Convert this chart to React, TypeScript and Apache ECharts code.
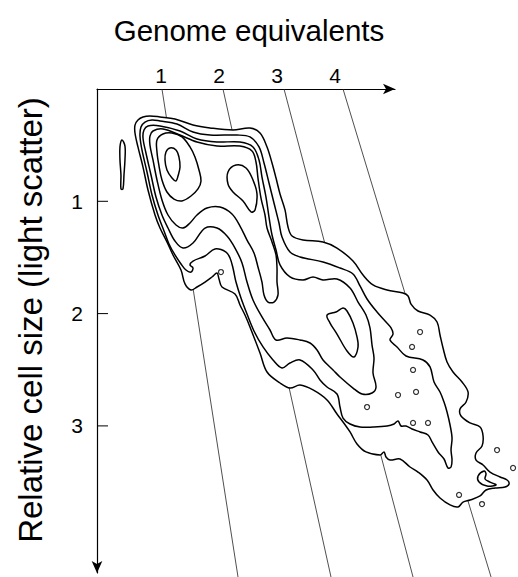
import React, { useEffect, useRef } from "react";
import * as echarts from "echarts";

const FONT = '"Liberation Sans", Arial, Helvetica, sans-serif';

// axis ticks
const xTicks = [1, 2, 3, 4];
const yTicks = [1, 2, 3];
const X_MIN = -0.103;
const X_MAX = 5.034;
const Y_MAX = 4.31;

// slanted genome-equivalent lines: [start, end] in (genome equivalents, relative cell size)
const genomeLine1 = [[1.017, 0], [2.328, 4.346]];
const genomeLine2 = [[2.069, 0], [3.931, 4.346]];
const genomeLine3 = [[3.121, 0], [5.345, 4.346]];
const genomeLine4 = [[4.138, 0], [6.69, 4.346]];

// contour levels (closed loops)
const contourOuter = [
  [0.69, 0.249], [0.81, 0.24], [0.983, 0.249], [1.241, 0.267], [1.552, 0.321], [1.845, 0.347],
  [2.241, 0.365], [2.534, 0.347], [2.707, 0.392], [2.828, 0.516], [2.914, 0.659], [2.983, 0.793],
  [3.052, 0.935], [3.138, 1.077], [3.19, 1.229], [3.259, 1.309], [3.448, 1.345], [3.793, 1.362],
  [4.034, 1.416], [4.31, 1.532], [4.483, 1.657], [4.655, 1.745], [4.897, 1.79], [5.172, 1.817],
  [5.259, 1.843], [5.31, 1.915], [5.431, 1.977], [5.638, 2.013], [5.759, 2.075], [5.81, 2.191],
  [5.862, 2.306], [5.931, 2.431], [6.034, 2.52], [6.19, 2.609], [6.293, 2.698], [6.259, 2.787],
  [6.155, 2.85], [6.172, 2.912], [6.328, 2.974], [6.5, 3.01], [6.552, 3.09], [6.534, 3.179],
  [6.431, 3.241], [6.431, 3.304], [6.552, 3.348], [6.672, 3.411], [6.845, 3.455], [6.966, 3.482],
  [7.0, 3.517], [6.931, 3.544], [6.759, 3.553], [6.603, 3.571], [6.5, 3.624], [6.328, 3.66],
  [6.207, 3.678], [6.121, 3.722], [5.983, 3.704], [5.81, 3.642], [5.69, 3.571], [5.586, 3.482],
  [5.431, 3.411], [5.293, 3.366], [5.121, 3.295], [4.948, 3.304], [4.879, 3.277], [4.845, 3.232],
  [4.776, 3.259], [4.534, 3.232], [4.379, 3.161], [4.259, 3.054], [4.138, 2.965], [4.034, 2.894],
  [3.862, 2.769], [3.621, 2.68], [3.397, 2.636], [3.224, 2.663], [3.052, 2.618], [2.828, 2.52],
  [2.707, 2.351], [2.534, 2.119], [2.448, 2.013], [2.362, 1.923], [2.276, 1.825], [2.052, 1.763],
  [2.0, 1.692], [1.966, 1.639], [1.879, 1.674], [1.759, 1.719], [1.621, 1.763], [1.517, 1.79],
  [1.414, 1.736], [1.345, 1.612], [1.207, 1.478], [1.103, 1.362], [0.983, 1.238], [0.897, 1.122],
  [0.776, 0.899], [0.69, 0.695], [0.603, 0.516], [0.552, 0.392], [0.552, 0.321], [0.603, 0.276],
];

const contourLevel2 = [
  [0.724, 0.294], [0.845, 0.276], [0.983, 0.285], [1.276, 0.312], [1.552, 0.383], [1.845, 0.41],
  [2.31, 0.41], [2.534, 0.427], [2.69, 0.516], [2.776, 0.659], [2.862, 0.837], [2.948, 1.015],
  [3.034, 1.193], [3.086, 1.318], [3.224, 1.452], [3.397, 1.496], [3.793, 1.54], [4.086, 1.594],
  [4.31, 1.647], [4.431, 1.754], [4.552, 1.87], [4.724, 1.986], [4.879, 2.075], [4.966, 2.128],
  [5.0, 2.182], [4.948, 2.235], [5.069, 2.297], [5.224, 2.378], [5.517, 2.413], [5.638, 2.475],
  [5.707, 2.609], [5.81, 2.698], [5.879, 2.787], [5.931, 2.876], [5.983, 2.992], [6.017, 3.108],
  [6.0, 3.215], [6.017, 3.304], [6.0, 3.366], [5.948, 3.375], [5.879, 3.295], [5.776, 3.232],
  [5.672, 3.143], [5.603, 3.081], [5.466, 3.054], [5.328, 3.028], [5.224, 3.001], [5.138, 3.001],
  [5.086, 2.956], [5.017, 2.983], [4.897, 3.001], [4.655, 3.01], [4.431, 3.01], [4.259, 2.983],
  [4.138, 2.93], [4.086, 2.832], [4.034, 2.716], [3.862, 2.654], [3.741, 2.591], [3.621, 2.502],
  [3.397, 2.413], [3.224, 2.44], [3.086, 2.484], [2.931, 2.413], [2.759, 2.297], [2.603, 2.155],
  [2.483, 2.004], [2.379, 1.861], [2.293, 1.719], [2.241, 1.594], [2.19, 1.505], [2.121, 1.452],
  [1.931, 1.425], [1.759, 1.487], [1.552, 1.532], [1.5, 1.567], [1.552, 1.594], [1.517, 1.63],
  [1.431, 1.612], [1.345, 1.558], [1.241, 1.478], [1.138, 1.38], [1.052, 1.264], [0.948, 1.122],
  [0.845, 0.944], [0.759, 0.739], [0.672, 0.543], [0.638, 0.419], [0.655, 0.338],
];

const contourLevel3 = [
  [0.776, 0.329], [0.983, 0.329], [1.328, 0.374], [1.621, 0.445], [1.966, 0.472], [2.362, 0.472],
  [2.586, 0.516], [2.69, 0.632], [2.741, 0.784], [2.81, 0.962], [2.862, 1.14], [2.914, 1.3],
  [2.983, 1.434], [3.052, 1.567], [3.224, 1.674], [3.448, 1.701], [3.621, 1.674], [3.793, 1.701],
  [4.034, 1.692], [4.259, 1.772], [4.397, 1.897], [4.534, 2.013], [4.603, 2.128], [4.638, 2.28],
  [4.672, 2.395], [4.655, 2.529], [4.707, 2.654], [4.638, 2.707], [4.466, 2.716], [4.31, 2.663],
  [4.086, 2.565], [3.966, 2.502], [3.793, 2.413], [3.69, 2.324], [3.569, 2.262], [3.397, 2.235],
  [3.172, 2.217], [2.983, 2.235], [2.879, 2.146], [2.741, 2.03], [2.586, 1.879], [2.483, 1.719],
  [2.397, 1.549], [2.276, 1.416], [2.138, 1.309], [1.966, 1.238], [1.759, 1.238], [1.552, 1.371],
  [1.379, 1.416], [1.241, 1.354], [1.121, 1.238], [1.017, 1.122], [0.914, 0.962], [0.828, 0.766],
  [0.741, 0.57], [0.69, 0.436], [0.707, 0.365],
];

const contourLevel4 = [
  [0.862, 0.374], [1.034, 0.356], [1.328, 0.41], [1.621, 0.472], [1.966, 0.508], [2.362, 0.508],
  [2.569, 0.552], [2.638, 0.65], [2.672, 0.793], [2.724, 0.971], [2.793, 1.122], [2.828, 1.238],
  [2.914, 1.362], [2.983, 1.478], [3.0, 1.594], [3.0, 1.719], [3.017, 1.834], [2.948, 1.897],
  [2.845, 1.897], [2.776, 1.834], [2.741, 1.719], [2.672, 1.585], [2.603, 1.46], [2.483, 1.345],
  [2.362, 1.22], [2.224, 1.113], [2.017, 1.051], [1.793, 1.06], [1.621, 1.122], [1.5, 1.193],
  [1.379, 1.238], [1.259, 1.211], [1.121, 1.122], [1.017, 0.988], [0.931, 0.81], [0.862, 0.632],
  [0.81, 0.499], [0.81, 0.419],
];

const contourPeak1Ring = [
  [0.931, 0.454], [1.034, 0.401], [1.19, 0.392], [1.362, 0.427], [1.5, 0.516], [1.586, 0.606],
  [1.655, 0.721], [1.69, 0.819], [1.638, 0.89], [1.517, 0.953], [1.362, 0.997], [1.224, 0.98],
  [1.103, 0.917], [1.017, 0.81], [0.966, 0.686], [0.931, 0.561],
];

const contourPeak1Core = [
  [1.155, 0.525], [1.259, 0.543], [1.31, 0.606], [1.328, 0.695], [1.293, 0.775], [1.259, 0.819],
  [1.19, 0.793], [1.103, 0.721], [1.069, 0.632], [1.086, 0.561],
];

const contourPeak2Core = [
  [2.155, 0.739], [2.293, 0.677], [2.466, 0.703], [2.586, 0.81], [2.655, 0.935], [2.621, 1.077],
  [2.552, 1.095], [2.414, 0.997], [2.241, 0.917], [2.155, 0.846],
];

const contourPeak3Core = [
  [3.862, 2.013], [4.017, 1.986], [4.138, 1.95], [4.207, 1.977], [4.31, 2.084], [4.379, 2.208],
  [4.397, 2.297], [4.328, 2.386], [4.207, 2.333], [4.034, 2.182], [3.914, 2.084],
];

const contourSideBlob = [
  [0.328, 0.454], [0.379, 0.508], [0.379, 0.632], [0.362, 0.766], [0.345, 0.89], [0.31, 0.89],
  [0.31, 0.766], [0.293, 0.632], [0.293, 0.516],
];

const contourCrescent = [
  [6.569, 3.402], [6.466, 3.446], [6.483, 3.5], [6.621, 3.535], [6.776, 3.526], [6.672, 3.5],
  [6.586, 3.473], [6.603, 3.428],
];

// tiny isolated loops
const smallLoops = [
  [2.034, 1.63], [5.466, 2.164], [5.328, 2.297], [5.345, 2.502], [5.397, 2.698], [5.086, 2.725],
  [4.552, 2.832], [5.345, 2.974], [5.603, 2.974], [6.793, 3.215], [7.069, 3.375], [6.534, 3.696],
  [6.138, 3.615],
];

const contours = [
  contourOuter,
  contourLevel2,
  contourLevel3,
  contourLevel4,
  contourPeak1Ring,
  contourPeak1Core,
  contourPeak2Core,
  contourPeak3Core,
  contourSideBlob,
  contourCrescent,
];

const genomeLines = [genomeLine1, genomeLine2, genomeLine3, genomeLine4];

export default function App() {
  const ref = useRef<HTMLDivElement>(null);

  useEffect(() => {
    if (!ref.current) return;
    const chart = echarts.init(ref.current, null, { renderer: "svg" });

    const option: any = {
      animation: false,
      backgroundColor: "#ffffff",
      grid: { left: 97, top: 89, width: 298, height: 484, containLabel: false },
      xAxis: {
        type: "value",
        position: "top",
        min: X_MIN,
        max: X_MAX,
        axisLine: {
          onZero: false,
          lineStyle: { color: "#000", width: 1.2 },
          symbol: ["none", "arrow"],
          symbolSize: [8, 12],
        },
        axisTick: { show: false },
        splitLine: { show: false },
        axisLabel: {
          customValues: xTicks,
          color: "#000",
          fontSize: 21,
          fontFamily: FONT,
          margin: 3,
          formatter: (v: number) => String(v),
        },
      },
      yAxis: {
        type: "value",
        inverse: true,
        min: 0,
        max: Y_MAX,
        axisLine: {
          onZero: false,
          lineStyle: { color: "#000", width: 1.2 },
          symbol: ["arrow", "none"],
          symbolSize: [8, 12],
        },
        axisTick: { show: false },
        splitLine: { show: false },
        axisLabel: {
          customValues: yTicks,
          color: "#000",
          fontSize: 21,
          fontFamily: FONT,
          margin: 14,
          formatter: (v: number) => String(v),
        },
      },
      series: [
        {
          type: "custom",
          coordinateSystem: "cartesian2d",
          z: 1,
          silent: true,
          clip: false,
          data: genomeLines.map((ln) => [ln[0][0], ln[0][1]]),
          renderItem: (params: any, api: any) => {
            const ln = genomeLines[params.dataIndex];
            const a = api.coord(ln[0]);
            const b = api.coord(ln[1]);
            return {
              type: "line",
              shape: { x1: a[0], y1: a[1], x2: b[0], y2: b[1] },
              style: { stroke: "#222", lineWidth: 0.8 },
            };
          },
        },
        {
          // inside tick marks of the cell-size axis
          type: "custom",
          coordinateSystem: "cartesian2d",
          z: 2,
          silent: true,
          clip: false,
          data: yTicks.map((v) => [X_MIN, v]),
          renderItem: (params: any, api: any) => {
            const p = api.coord([X_MIN, yTicks[params.dataIndex]]);
            return {
              type: "line",
              shape: { x1: p[0], y1: p[1], x2: p[0] + 11, y2: p[1] },
              style: { stroke: "#000", lineWidth: 1 },
            };
          },
        },
        {
          type: "custom",
          coordinateSystem: "cartesian2d",
          z: 3,
          silent: true,
          clip: false,
          data: contours.map((c) => [c[0][0], c[0][1]]),
          renderItem: (params: any, api: any) => {
            const pts = contours[params.dataIndex].map((p) => api.coord(p));
            return {
              type: "polygon",
              shape: { points: pts, smooth: 0.35 },
              style: {
                fill: params.dataIndex === 0 ? "#ffffff" : "none",
                stroke: "#000",
                lineWidth: 1.5,
              },
            };
          },
        },
        {
          type: "scatter",
          data: smallLoops,
          symbol: "circle",
          symbolSize: 5,
          clip: false,
          silent: true,
          z: 4,
          itemStyle: { color: "#fff", borderColor: "#000", borderWidth: 1.2 },
        },
      ],
      graphic: [
        {
          type: "text",
          x: 249,
          y: 30,
          style: {
            text: "Genome equivalents",
            fontSize: 29.5,
            fontFamily: FONT,
            fill: "#000",
            align: "center",
            verticalAlign: "middle",
            textAlign: "center",
            textVerticalAlign: "middle",
          },
        },
        {
          type: "text",
          x: 30,
          y: 320,
          rotation: Math.PI / 2,
          style: {
            text: "Relative cell size (light scatter)",
            fontSize: 33,
            fontFamily: FONT,
            fill: "#000",
            align: "center",
            verticalAlign: "middle",
            textAlign: "center",
            textVerticalAlign: "middle",
          },
        },
      ],
    };

    chart.setOption(option);
    return () => chart.dispose();
  }, []);

  return (
    <div
      ref={ref}
      style={{ position: "fixed", left: 0, top: 0, width: 518, height: 577, background: "#fff" }}
    />
  );
}
